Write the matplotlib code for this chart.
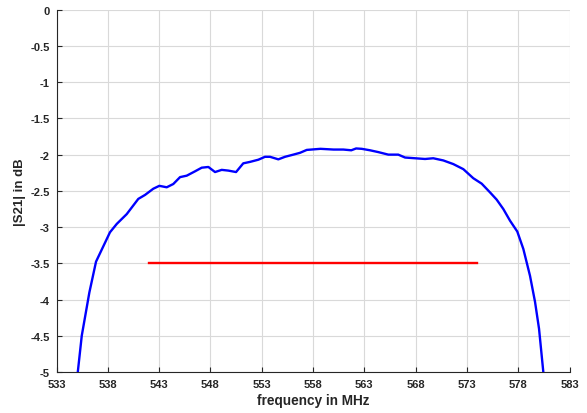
import numpy as np
import matplotlib
matplotlib.use('Agg')
import matplotlib.pyplot as plt

# values
freq_mhz = [535.07, 535.46, 536.2, 536.85, 538.21, 538.87, 539.84, 540.97, 541.63,
            542.43, 543.02, 543.74, 544.38, 545.04, 545.69, 546.5, 547.15, 547.8,
            548.45, 549.1, 549.74, 550.5, 551.2, 551.86, 552.67, 553.32, 553.81,
            554.62, 555.27, 556.08, 556.73, 557.39, 558.73, 560.0, 560.95, 561.73,
            562.2, 562.75, 563.55, 564.36, 565.34, 566.31, 566.97, 567.94, 568.92,
            569.72, 570.7, 571.67, 572.65, 573.62, 574.44, 575.25, 575.9, 576.55,
            577.2, 577.91, 578.5, 579.15, 579.64, 580.03, 580.45]
s21_db = [-5.0, -4.495, -3.9, -3.475, -3.07, -2.955, -2.82, -2.61, -2.555,
          -2.47, -2.43, -2.45, -2.405, -2.31, -2.29, -2.23, -2.18, -2.17,
          -2.24, -2.21, -2.22, -2.24, -2.12, -2.10, -2.07, -2.03, -2.03,
          -2.065, -2.03, -2.0, -1.975, -1.935, -1.92, -1.93, -1.93, -1.94,
          -1.915, -1.92, -1.94, -1.965, -2.0, -2.0, -2.04, -2.05, -2.06,
          -2.05, -2.08, -2.13, -2.20, -2.325, -2.40, -2.52, -2.62, -2.75,
          -2.91, -3.06, -3.30, -3.67, -4.03, -4.40, -5.0]
limit_freq = [542, 574]
limit_db = [-3.5, -3.5]

x_ticks = np.arange(533, 584, 5)
y_ticks = np.arange(-5, 0.01, 0.5)

plt.rcParams['font.family'] = ['Liberation Sans', 'DejaVu Sans']

fig = plt.figure(figsize=(5.87, 4.14), dpi=100)
ax = fig.add_axes([0.0963, 0.0983, 0.8739, 0.8763])

ax.plot(freq_mhz, s21_db, color='#0000ff', lw=1.7, zorder=3)
ax.plot(limit_freq, limit_db, color='#ff0000', lw=1.7, zorder=3)

ax.set_xlim(533, 583)
ax.set_ylim(-5, 0)
ax.set_xticks(x_ticks)
ax.set_yticks(y_ticks)
ax.set_yticklabels([f'{v:g}' for v in y_ticks])
ax.grid(True, color='#d9d9d9', lw=0.8)
ax.set_axisbelow(True)

ax.spines['top'].set_visible(False)
ax.spines['right'].set_visible(False)
ax.spines['left'].set_color('#262626')
ax.spines['bottom'].set_color('#262626')
ax.tick_params(direction='in', length=3.5, width=0.8, colors='#262626',
               labelsize=8, pad=5)
for lbl in ax.get_xticklabels() + ax.get_yticklabels():
    lbl.set_fontweight('bold')

ax.set_xlabel('frequency in MHz', fontsize=9.8, fontweight='bold', color='#262626', labelpad=3)
ax.set_ylabel('|S21| in dB', fontsize=9.5, fontweight='bold', color='#262626', labelpad=3)

fig.savefig('out.png', dpi=100)
